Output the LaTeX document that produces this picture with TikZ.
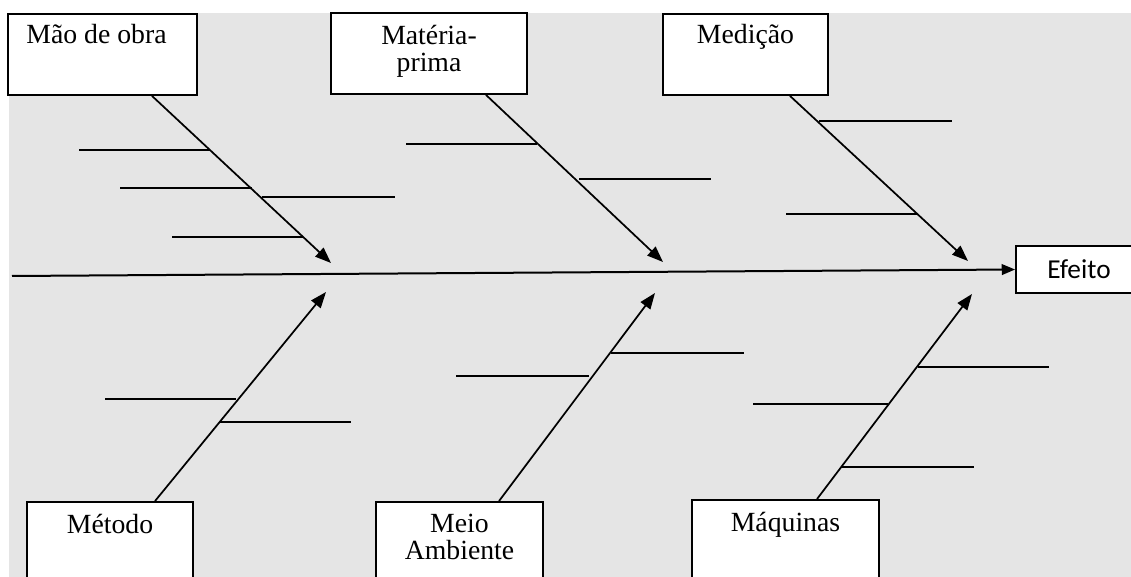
\documentclass[tikz,border=0pt]{standalone}
\usepackage{fontspec}
\setmainfont{Liberation Serif}
\newfontfamily\efeitofont{Carlito}
\usetikzlibrary{arrows.meta,calc}
\begin{document}
\begin{tikzpicture}[x=0.75pt,y=-0.75pt,
  catbox/.style={draw=black,fill=white,line width=1.4pt,inner sep=0pt},
  cattext/.style={anchor=north,inner sep=0pt,align=center,yshift=-9.5pt,
    font=\fontsize{20.8}{20.6}\selectfont},
  bone/.style={line width=1.3pt},
  arrowbone/.style={bone,-{Triangle[length=12pt,width=9pt]}}]
  % colors
  \definecolor{kBack}{rgb}{0.9,0.9,0.9}
  % canvas
  \useasboundingbox (0,0) rectangle (1131,577);
  \fill[color=kBack] (9,13) rectangle (1131,577);

  % boxes
  \node[catbox,minimum width=141.75pt,minimum height=60.75pt,
    label={[cattext,xshift=-4.5pt,yshift=1pt]north:Mão de obra}] (mao) at (102.5,54.5) {};
  \node[catbox,minimum width=147pt,minimum height=60.75pt,
    label={[cattext]north:Matéria-\\prima}] (materia) at (429,53.5) {};
  \node[catbox,minimum width=123.75pt,minimum height=60.75pt,
    label={[cattext,yshift=1pt]north:Medição}] (medicao) at (745.5,54.5) {};
  \node[catbox,minimum width=124.5pt,minimum height=60.75pt,
    label={[cattext]north:Método}] (metodo) at (110,542.5) {};
  \node[catbox,minimum width=125.25pt,minimum height=60.75pt,
    label={[cattext]north:Meio\\Ambiente}] (meio) at (459.5,542.5) {};
  \node[catbox,minimum width=140.25pt,minimum height=60.75pt,
    label={[cattext]north:Máquinas}] (maquinas) at (785.5,540.5) {};
  \node[catbox,minimum width=94.5pt,minimum height=35.25pt,
    font=\efeitofont\fontsize{20.5}{24}\selectfont] (efeito) at (1079,269.5) {Efeito};

  % spine
  \coordinate (sstart) at (12,276);
  \draw[line width=1.5pt,-{Triangle[length=10pt,width=8pt]}] (sstart) -- (efeito.west);

  % bones
  \coordinate (tmao) at (331,263);
  \coordinate (tmateria) at (663,262);
  \coordinate (tmedicao) at (968,261);
  \coordinate (tmetodo) at (326,292);
  \coordinate (tmeio) at (655,293);
  \coordinate (tmaquinas) at (972,294);
  \foreach \n/\dx in {mao/49.5,materia/57,medicao/44.5} {
    \draw[arrowbone] ($(\n.south)+(\dx,0)$) -- (t\n);
  };
  \foreach \n/\dx in {metodo/45,meio/39.5,maquinas/31.5} {
    \draw[arrowbone] ($(\n.north)+(\dx,0)$) -- (t\n);
  };

  % causes
  \foreach \xa/\xb/\y in {79/210/150,120/252/188,262/395/197,172/303/237,
    406/537/144,579/711/179,819/952/121,786/918/214,
    105/236/399,220/351/422,611/744/353,456/589/376,
    918/1049/367,753/888/404,842/974/467} {
    \draw[bone] (\xa,\y) -- (\xb,\y);
  };
\end{tikzpicture}
\end{document}
